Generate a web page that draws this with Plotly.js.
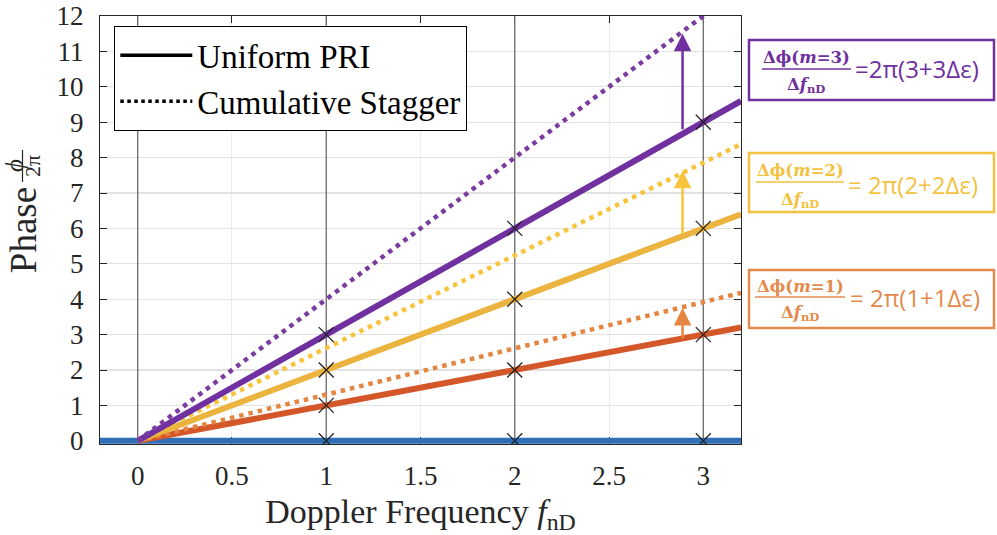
<!DOCTYPE html>
<html>
<head>
<meta charset="utf-8">
<script src="https://cdn.plot.ly/plotly-3.0.1.min.js"></script>
<style>html,body{margin:0;padding:0;background:#fff;}#chart{width:997px;height:535px;}</style>
</head>
<body>
<div id="chart"></div>
<script>
// ---- data ----
const freqEnds = [0, 3.2];
const baseFreq = [-0.2, 3.2];
const basePhase = [0, 0];
const uniformM1 = [0, 3.2];
const uniformM2 = [0, 6.4];
const uniformM3 = [0, 9.6];
const staggerM1 = [0, 4.18];
const staggerM2 = [0, 8.38];
const staggerM3 = [0, 12.8];
const markerFreq  = [1, 2, 3, 1, 2, 3, 1, 2, 3, 1, 2, 3];
const markerPhase = [0, 0, 0, 1, 2, 3, 2, 4, 6, 3, 6, 9];
const integerFreq = [0, 1, 2, 3];
const phaseRange = [-0.09, 12];
const arrowFreq = [2.89, 2.89, 2.89];
const arrowBase = [2.85, 5.8, 8.76];
const arrowTip  = [3.75, 7.63, 11.5];
const xTickVals = [0, 0.5, 1, 1.5, 2, 2.5, 3];
const xTickText = ['0', '0.5', '1', '1.5', '2', '2.5', '3'];
const yTickVals = [0,1,2,3,4,5,6,7,8,9,10,11,12];
const legendNames = ['Uniform PRI', 'Cumulative Stagger'];
const boxNumerators = ['Δϕ(<i>m</i>=1)', 'Δϕ(<i>m</i>=2)', 'Δϕ(<i>m</i>=3)'];
const boxEquations = ['= 2π(1+1Δε)', '= 2π(2+2Δε)', '=2π(3+3Δε)'];

// ---- styles ----
const C = {
  blue: '#2f6fb8',
  purple: '#7030a0', purpleDot: '#7a3c9f',
  yellow: '#ebb43f', yellowDot: '#f7c43c',
  orange: '#d4572a', orangeDot: '#e5853f',
  orangeBox: '#e38a4c', yellowBox: '#f4c23f', purpleBox: '#7030a0',
  axis: '#262626'
};
const serif = 'Liberation Serif';
const L = 100, R = 256, T = 16, B = 91, W = 997, H = 535;
const pw = W - L - R, ph = H - T - B;
const px = x => (x - L) / pw;
const py = y => (H - B - y) / ph;

const solid = (y, color, name) => ({x: freqEnds, y: y, mode: 'lines', line: {color: color, width: 6}, showlegend: false, name: name, hoverinfo: 'skip'});
const dotted = (y, color, name) => ({x: freqEnds, y: y, mode: 'lines', line: {color: color, width: 4.5, dash: '4.5px,5px'}, showlegend: false, name: name, hoverinfo: 'skip'});

// vertical reference lines at integer Doppler frequencies
const vX = [], vY = [];
integerFreq.forEach(f => { vX.push(f, f, null); vY.push(phaseRange[0], phaseRange[1], null); });

const traces = [
  {x: vX, y: vY, mode: 'lines', line: {color: '#6a6a6a', width: 1.3}, showlegend: false, name: 'f grid', hoverinfo: 'skip'},
  {x: baseFreq, y: basePhase, mode: 'lines', line: {color: C.blue, width: 6}, showlegend: false, name: 'm=0'},
  solid(uniformM1, C.orange, 'Uniform m=1'),
  dotted(staggerM1, C.orangeDot, 'Stagger m=1'),
  solid(uniformM2, C.yellow, 'Uniform m=2'),
  dotted(staggerM2, C.yellowDot, 'Stagger m=2'),
  solid(uniformM3, C.purple, 'Uniform m=3'),
  dotted(staggerM3, C.purpleDot, 'Stagger m=3'),
  {x: markerFreq, y: markerPhase, mode: 'markers', marker: {symbol: 'x-thin', size: 15, line: {color: '#222', width: 1.3}}, showlegend: false, name: 'samples'},
  {x: [null], y: [null], mode: 'lines', line: {color: '#000', width: 3.5}, name: legendNames[0], showlegend: true},
  {x: [null], y: [null], mode: 'lines', line: {color: '#000', width: 3.5, dash: '3.5px,3.5px'}, name: legendNames[1], showlegend: true}
];

const shapes = [];
const annotations = [];
const arrowColors = [C.orangeDot, C.yellowDot, C.purple];
arrowFreq.forEach((f, i) => annotations.push({
  x: f, y: arrowTip[i], ax: f, ay: arrowBase[i], xref: 'x', yref: 'y', axref: 'x', ayref: 'y',
  text: '', showarrow: true, arrowhead: 2, arrowsize: 1.4, arrowwidth: 2.5, arrowcolor: arrowColors[i]
}));

// equation boxes (pixel geometry)
const boxes = [
  {color: C.orangeBox, top: 270, bottom: 328, numY: 287, barY: 297, denY: 313, cx: 800, bar0: 755, bar1: 845, eqX: 848, eqY: 297},
  {color: C.yellowBox, top: 153, bottom: 212, numY: 170, barY: 182, denY: 200, cx: 800, bar0: 756, bar1: 844, eqX: 846, eqY: 185},
  {color: C.purpleBox, top: 40, bottom: 100, numY: 57, barY: 69, denY: 86, cx: 806, bar0: 762, bar1: 851, eqX: 853, eqY: 68}
];
boxes.forEach((b, i) => {
  shapes.push({type: 'rect', xref: 'paper', yref: 'paper', x0: px(749), x1: px(994), y0: py(b.bottom), y1: py(b.top), line: {color: b.color, width: 2.5}, fillcolor: 'rgba(0,0,0,0)'});
  shapes.push({type: 'line', xref: 'paper', yref: 'paper', x0: px(b.bar0), x1: px(b.bar1), y0: py(b.barY), y1: py(b.barY), line: {color: b.color, width: 1.5}});
  annotations.push({xref: 'paper', yref: 'paper', x: px(b.cx), y: py(b.numY), text: '<b>' + boxNumerators[i] + '</b>', showarrow: false, xanchor: 'center', yanchor: 'middle', font: {family: 'DejaVu Serif', size: 16.5, color: b.color}});
  annotations.push({xref: 'paper', yref: 'paper', x: px(b.cx), y: py(b.denY), text: '<b>Δ<i>f</i><sub>nD</sub></b>', showarrow: false, xanchor: 'center', yanchor: 'middle', font: {family: 'DejaVu Serif', size: 16.5, color: b.color}});
  annotations.push({xref: 'paper', yref: 'paper', x: px(b.eqX), y: py(b.eqY), text: boxEquations[i], showarrow: false, xanchor: 'left', yanchor: 'middle', font: {family: 'Open Sans', size: 24, color: b.color}});
});

// y-axis label fraction phi / 2pi
annotations.push({xref: 'paper', yref: 'paper', x: px(14), y: py(166), text: '<i>ϕ</i>', textangle: -90, showarrow: false, xanchor: 'center', yanchor: 'middle', font: {family: serif, size: 25, color: C.axis}});
annotations.push({xref: 'paper', yref: 'paper', x: px(32), y: py(166), text: '2π', textangle: -90, showarrow: false, xanchor: 'center', yanchor: 'middle', font: {family: serif, size: 22, color: C.axis}});
shapes.push({type: 'line', xref: 'paper', yref: 'paper', x0: px(22.5), x1: px(22.5), y0: py(182), y1: py(150), line: {color: C.axis, width: 1.2}});

const axisCommon = {
  ticks: 'inside', ticklen: 7, tickwidth: 1, tickcolor: C.axis,
  showline: true, linecolor: C.axis, linewidth: 1, mirror: 'ticks',
  zeroline: false, layer: 'below traces',
  tickfont: {family: serif, size: 27, color: C.axis}
};

const layout = {
  width: W, height: H,
  margin: {l: L, r: R, t: T, b: B},
  paper_bgcolor: '#fff', plot_bgcolor: '#fff',
  font: {family: serif, color: C.axis},
  showlegend: true,
  legend: {x: px(114), y: py(26), xanchor: 'left', yanchor: 'top', bgcolor: '#fff', bordercolor: '#000', borderwidth: 1.3,
    font: {family: serif, size: 33, color: '#000'}, itemwidth: 72, tracegroupgap: 0},
  xaxis: Object.assign({}, axisCommon, {
    range: [-0.2, 3.2], tickmode: 'array', tickvals: xTickVals, ticktext: xTickText,
    showgrid: true, gridcolor: '#ececec', gridwidth: 1, ticklabelstandoff: 8,
    title: {text: 'Doppler Frequency <i>f</i><sub>nD</sub>', font: {family: serif, size: 34, color: C.axis}, standoff: 12}
  }),
  yaxis: Object.assign({}, axisCommon, {
    range: phaseRange, tickmode: 'array', tickvals: yTickVals,
    showgrid: true, gridcolor: '#e2e2e2', gridwidth: 1.3, ticklabelstandoff: 10,
    title: {text: 'Phase', font: {family: serif, size: 37, color: C.axis}, standoff: 8}
  }),
  shapes: shapes,
  annotations: annotations
};

Plotly.newPlot('chart', traces, layout, {staticPlot: true, displayModeBar: false});
</script>
</body>
</html>
